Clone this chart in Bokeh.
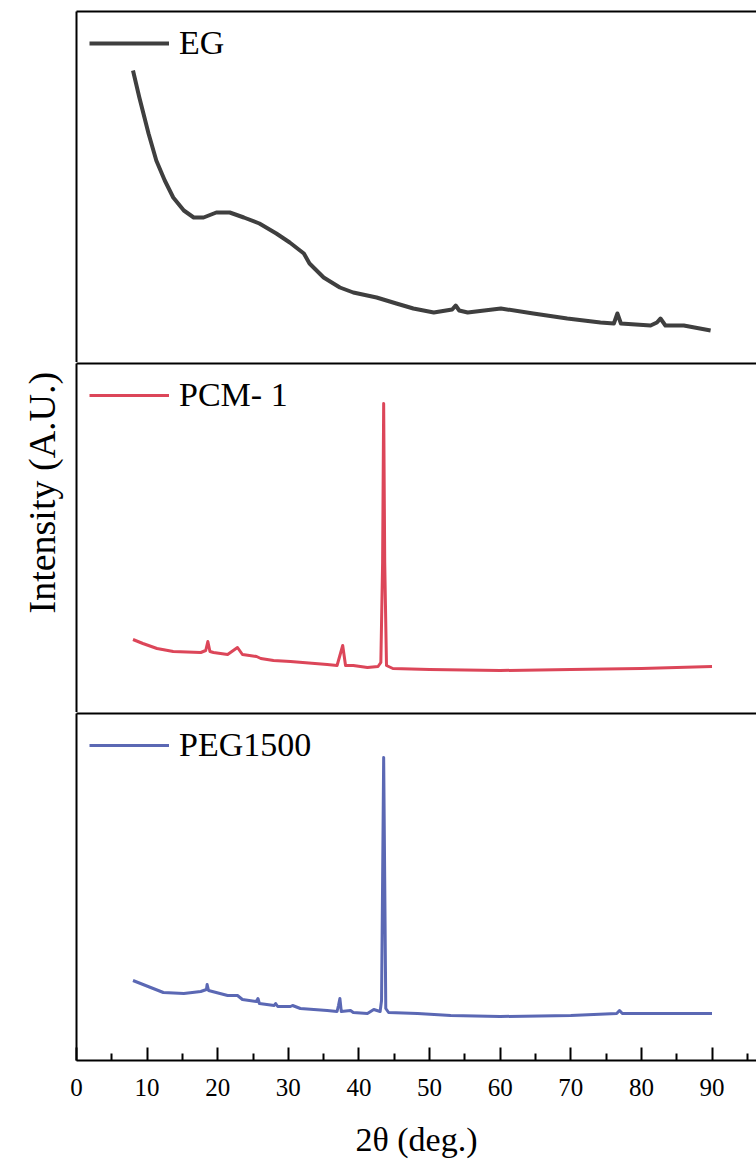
from bokeh.plotting import figure
from bokeh.models import (Range1d, LinearAxis, FixedTicker, Legend, LegendItem, Title)
from bokeh.layouts import column
from bokeh.embed import file_html
from bokeh.resources import INLINE

# ---------------- data (arbitrary intensity units) ----------------
eg_2theta = [8.0, 8.9, 10.2, 11.3, 12.5, 13.7, 15.2, 16.6, 18.0, 19.8, 21.7, 23.7, 25.9, 28.3,
             30.2, 32.2, 33.0, 35.0, 37.3, 39.2, 42.5, 45.3, 47.7, 50.6, 53.2, 53.7, 54.2,
             55.4, 60.1, 64.7, 69.5, 74.2, 76.1, 76.6, 77.1, 81.3, 82.2, 82.7, 83.4, 86.0, 89.8]
eg_int = [292, 265, 229, 202, 182, 165, 152, 145, 145, 150, 150, 145, 139, 129,
          120, 109, 99, 85, 75, 70, 65, 59, 54, 50, 53, 57, 52,
          50, 54, 49, 44, 40, 39, 49, 39, 37, 40, 44, 37, 37, 32]

pcm_2theta = [8.0, 9.4, 11.4, 13.7, 17.6, 18.3, 18.6, 18.9, 19.4, 21.4, 22.2, 22.8, 23.5, 24.5,
              25.5, 26.1, 27.9, 30.3, 35.5, 36.9, 37.3, 37.7, 38.1, 39.2, 41.2, 42.7, 43.1,
              43.35, 43.5, 43.65, 43.9, 44.8, 50.0, 60.0, 70.0, 80.0, 90.0]
pcm_int = [73, 69, 64, 61, 60, 62, 71, 61, 60, 58, 62, 65, 58, 57,
           56, 54, 52, 51, 48, 47, 57, 67, 47, 47, 45, 46, 50,
           150, 309, 150, 47, 44, 43, 42, 43, 44, 46]

peg_2theta = [8.0, 10.5, 12.3, 15.2, 17.6, 18.4, 18.5, 18.7, 21.4, 22.8, 23.5, 25.5, 25.7, 25.9,
              28.0, 28.2, 28.5, 30.3, 30.6, 31.7, 35.5, 36.9, 37.1, 37.3, 37.5, 38.8, 39.2,
              41.2, 42.1, 43.0, 43.2, 43.35, 43.5, 43.65, 43.8, 44.2, 48.3, 53.0, 60.0, 70.0,
              76.5, 76.9, 77.3, 90.0]
peg_int = [80, 73, 68, 67, 69, 71, 76, 70, 65, 65, 61, 59, 62, 57,
           55, 57, 54, 54, 55, 52, 50, 49, 55, 62, 49, 50, 48,
           47, 51, 49, 60, 180, 303, 180, 52, 48, 47, 45, 44, 45,
           47, 50, 47, 47]

series_names = ["EG", "PCM- 1", "PEG1500"]
series_colors = ["#3f3f3f", "#dc4659", "#5b68b4"]
x_major = [0, 10, 20, 30, 40, 50, 60, 70, 80, 90]
x_minor = [5, 15, 25, 35, 45, 55, 65, 75, 85, 95]
x_title = "2θ (deg.)"
y_title = "Intensity (A.U.)"

FONT = "Liberation Serif"
W = 756
LEFT = 76
xr = Range1d(0, 96.3)


def blank_axis(p, side):
    ax = LinearAxis(ticker=FixedTicker(ticks=[]), major_tick_in=0, major_tick_out=0,
                    minor_tick_in=0, minor_tick_out=0, major_label_text_font_size="0px",
                    major_label_standoff=0, axis_line_width=2, axis_line_color="black")
    p.add_layout(ax, side)
    return ax


def make_panel(h, top_border, bottom_border, ymax, xs, ys, name, color, lw):
    p = figure(width=W, height=h, x_range=xr, y_range=Range1d(0, ymax),
               x_axis_location=None, y_axis_location=None,
               output_backend="svg", toolbar_location=None,
               min_border_left=LEFT, min_border_right=0,
               min_border_top=top_border, min_border_bottom=bottom_border)
    p.outline_line_color = None
    p.grid.visible = False
    blank_axis(p, "left")
    blank_axis(p, "above")
    r = p.line(xs, ys, line_color=color, line_width=lw, line_join="round")
    leg = Legend(items=[LegendItem(label=name, renderers=[r])], location="top_left",
                 margin=13, padding=12, spacing=0, glyph_width=80, glyph_height=20,
                 label_standoff=10, label_text_font=FONT, label_text_font_size="34px",
                 label_text_color="black", border_line_color=None,
                 background_fill_alpha=0)
    p.add_layout(leg)
    return p


p1 = make_panel(362, 11, 0, 351, eg_2theta, eg_int, series_names[0], series_colors[0], 4)
p2 = make_panel(350, 1, 0, 349, pcm_2theta, pcm_int, series_names[1], series_colors[1], 3)
p3 = make_panel(448, 1, 100, 347, peg_2theta, peg_int, series_names[2], series_colors[2], 3)

xax = LinearAxis(ticker=FixedTicker(ticks=x_major, minor_ticks=x_minor),
                 axis_line_width=2, axis_line_color="black",
                 major_tick_in=13, major_tick_out=0, minor_tick_in=7, minor_tick_out=0,
                 major_tick_line_width=2, minor_tick_line_width=2,
                 major_tick_line_color="black", minor_tick_line_color="black",
                 major_label_text_font=FONT, major_label_text_font_size="25px",
                 major_label_text_color="black", major_label_standoff=18,
                 axis_label=x_title, axis_label_text_font=FONT,
                 axis_label_text_font_size="34px", axis_label_text_font_style="normal",
                 axis_label_text_color="black", axis_label_standoff=22)
p3.add_layout(xax, "below")

ytitle = Title(text=y_title, align="left", offset=99, text_font=FONT,
               text_font_size="38px", text_font_style="normal", text_color="black",
               standoff=28)
p2.add_layout(ytitle, "left")

layout = column(p1, p2, p3, spacing=0)
open("out.html", "w").write(file_html(layout, INLINE))
